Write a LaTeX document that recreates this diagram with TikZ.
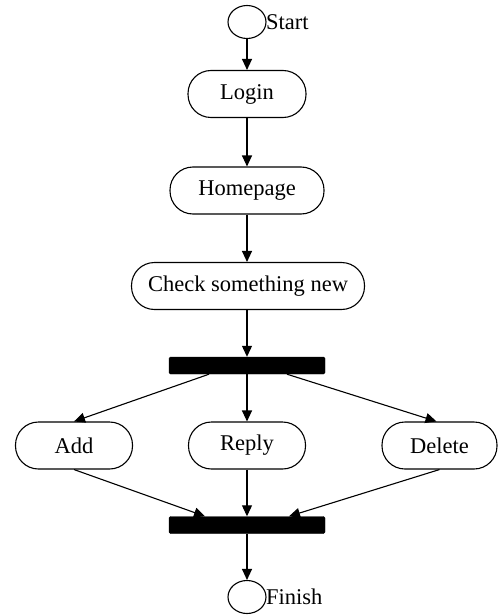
\documentclass[tikz,border=0pt]{standalone}
\usepackage{fontspec}
\setmainfont{Liberation Serif}
\usetikzlibrary{arrows.meta,shapes.geometric}
\begin{document}
\begin{tikzpicture}[x=1pt,y=-1pt,
  act/.style={draw, line width=1.1pt, rounded corners=23pt, minimum height=47pt, inner sep=0pt, font=\fontsize{22.5}{26}\selectfont},
  syncbar/.style={fill=black, draw=black, rounded corners=1.5pt, minimum width=156pt, minimum height=17pt, inner sep=0pt},
  term/.style={draw, ellipse, line width=1.1pt, minimum width=38pt, minimum height=33pt, inner sep=0pt},
  lab/.style={anchor=west, inner sep=0pt, font=\fontsize{22.5}{26}\selectfont},
  flow/.style={line width=1.1pt, -{Triangle[length=11pt,width=10pt]}}]
\useasboundingbox (0,0) rectangle (498,615);
\node[term] (start) at (247,22) {};
\node[lab] (startlab) at (266,22) {Start};
\node[act, minimum width=118pt] (login) at (247,94) {Login};
\node[act, minimum width=154pt] (home) at (247,190.5) {Homepage};
\node[act, minimum width=233pt] (check) at (248,286) {Check something new};
\node[syncbar] (bar1) at (247,365.5) {};
\node[act, minimum width=117pt] (add) at (74,445.5) {Add};
\node[act, minimum width=117pt] (reply) at (247,445.5) {Reply};
\node[act, minimum width=115pt] (delete) at (439.5,445.5) {Delete};
\node[syncbar] (bar2) at (247,525) {};
\node[term] (finish) at (247,597) {};
\node[lab] (finlab) at (266,597) {Finish};
\draw[flow] (start) -- (login);
\draw[flow] (login) -- (home);
\draw[flow] (home) -- (check.north -| home);
\draw[flow] (check.south -| bar1) -- (bar1.north);
\draw[flow] ([xshift=-38pt]bar1.south) -- (add.north);
\draw[flow] (bar1.south) -- (reply.north);
\draw[flow] ([xshift=40pt]bar1.south) -- ([xshift=-3pt]delete.north);
\draw[flow] (add.south) -- ([xshift=-42pt]bar2.north);
\draw[flow] (reply.south) -- (bar2.north);
\draw[flow] (delete.south) -- ([xshift=42pt]bar2.north);
\draw[flow] (bar2.south) -- (finish);
\end{tikzpicture}
\end{document}
